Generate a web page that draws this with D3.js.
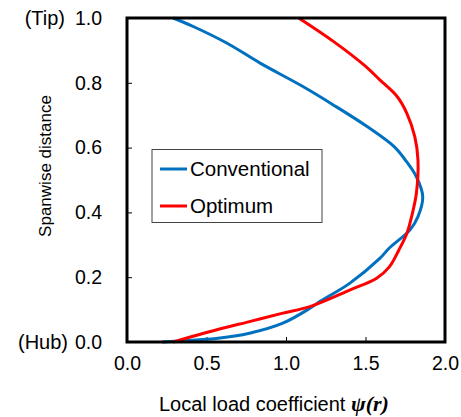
<!DOCTYPE html>
<html>
<head>
<meta charset="utf-8">
<script src="https://cdn.jsdelivr.net/npm/d3@7"></script>
<style>
body{margin:0;background:#fff;}
svg{display:block;font-family:"Liberation Sans",Arial,sans-serif;}
</style>
</head>
<body>
<svg id="chart" width="461" height="417"></svg>
<script>
// Conventional (blue): load coefficient and spanwise distance
let convPsi=[0.22,0.35,0.56,0.77,0.98,1.15,1.21,1.40,1.59,1.65,1.78,1.83,1.86,1.82,1.75,1.68,1.51,1.30,1.09,0.84,0.63,0.42,0.29];
let convR  =[0.0,0.004,0.011,0.027,0.058,0.104,0.124,0.181,0.258,0.29,0.346,0.387,0.448,0.510,0.562,0.603,0.665,0.731,0.793,0.860,0.922,0.973,1.0];
// Optimum (red)
let optPsi=[0.29,0.56,0.77,0.98,1.15,1.40,1.57,1.65,1.71,1.76,1.79,1.82,1.83,1.81,1.76,1.70,1.59,1.49,1.30,1.08];
let optR  =[0.0,0.037,0.063,0.089,0.109,0.160,0.197,0.232,0.284,0.335,0.387,0.459,0.562,0.634,0.706,0.757,0.809,0.855,0.927,1.0];

let xTicks=[0,0.5,1.0,1.5,2.0];
let yTicks=[0,0.2,0.4,0.6,0.8,1.0];
let seriesNames=["Conventional","Optimum"];
let seriesColors=["#0070C0","#FF0000"];

function myInit()
{
    const svg=d3.select("#chart");
    const margin={top:18,left:127,right:16,bottom:75};
    const W=461,H=417;
    const width=W-margin.left-margin.right;
    const height=H-margin.top-margin.bottom;

    const x=d3.scaleLinear().domain([0,2]).range([0,width]);
    const y=d3.scaleLinear().domain([0,1]).range([height,0]);

    const g=svg.append("g").attr("transform","translate("+margin.left+","+margin.top+")");

    // axes, ticks pointing inward
    const xa=g.append("g").attr("transform","translate(0,"+height+")")
        .call(d3.axisBottom(x).tickValues(xTicks).tickFormat(d3.format(".1f")).tickSizeInner(-5).tickSizeOuter(0).tickPadding(14));
    const ya=g.append("g")
        .call(d3.axisLeft(y).tickValues(yTicks).tickFormat(d3.format(".1f")).tickSizeInner(-5).tickSizeOuter(0).tickPadding(25));
    [xa,ya].forEach(a=>{
        a.select(".domain").remove();
        a.selectAll("line").attr("stroke","#000").attr("stroke-width",1);
        a.selectAll("text").attr("font-size","19.5px").attr("fill","#000").attr("font-family","'Liberation Sans',Arial,sans-serif");
    });

    // curves
    let data=[convPsi.map((v,i)=>[v,convR[i]]),optPsi.map((v,i)=>[v,optR[i]])];
    const line=d3.line().x(d=>x(d[0])).y(d=>y(d[1])).curve(d3.curveCatmullRom);
    data.forEach((s,i)=>{
        g.append("path").datum(s).attr("d",line)
         .attr("fill","none").attr("stroke",seriesColors[i]).attr("stroke-width",3).attr("stroke-linejoin","round");
    });

    // frame
    g.append("rect").attr("width",width).attr("height",height)
     .attr("fill","none").attr("stroke","#000").attr("stroke-width",3);

    // Tip / Hub labels
    g.append("text").attr("x",-62).attr("y",y(1)).attr("dy","0.35em").attr("text-anchor","end")
     .attr("font-size","20px").text("(Tip)");
    g.append("text").attr("x",-59).attr("y",y(0)).attr("dy","0.35em").attr("text-anchor","end")
     .attr("font-size","20px").text("(Hub)");

    // axis titles
    svg.append("text").attr("transform","translate(51,166) rotate(-90)").attr("text-anchor","middle")
     .attr("font-size","17px").text("Spanwise distance");
    const xt=svg.append("text").attr("x",159).attr("y",411).attr("font-size","20px");
    xt.append("tspan").text("Local load coefficient ");
    xt.append("tspan").attr("font-family","'Liberation Serif','Times New Roman',serif")
      .attr("font-weight","bold").attr("font-style","italic").attr("font-size","22px").text("ψ(r)");

    // legend
    const lg=svg.append("g").attr("transform","translate(152,149.5)");
    lg.append("rect").attr("width",170).attr("height",73).attr("fill","#fff").attr("stroke","#444").attr("stroke-width",1);
    seriesNames.forEach((n,i)=>{
        const yy=19.5+i*37;
        lg.append("line").attr("x1",8).attr("x2",35).attr("y1",yy).attr("y2",yy)
          .attr("stroke",seriesColors[i]).attr("stroke-width",3);
        lg.append("text").attr("x",38).attr("y",yy).attr("dy","0.35em").attr("font-size","20.5px").text(n);
    });
}
myInit();
</script>
</body>
</html>
